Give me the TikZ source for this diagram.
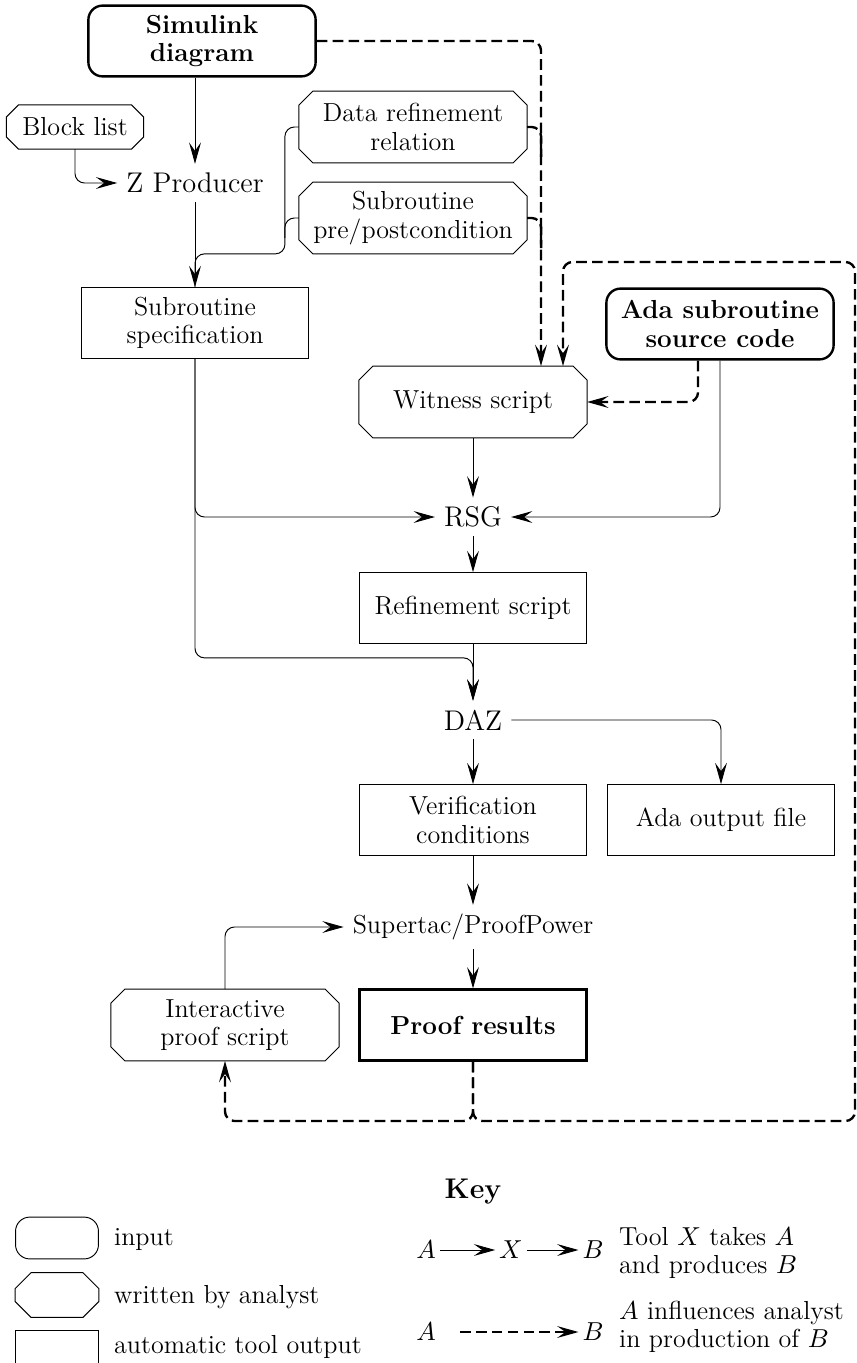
\documentclass[tikz,border=0pt]{standalone}
\usepackage{tikz}
\usetikzlibrary{positioning,arrows.meta,calc}
\AtBeginDocument{\fontsize{11}{12}\selectfont}
\tikzset{
  inbox/.style={draw,line width=1pt,rounded corners=6pt,align=center,
               minimum width=33.7mm,minimum height=10.5mm,inner sep=2pt,font=\bfseries},
  anbox/.style={rectangle,align=center,minimum width=33.7mm,
               minimum height=10.5mm,inner sep=2pt},
  autobox/.style={draw,rectangle,align=center,minimum width=33.7mm,
                 minimum height=10.5mm,inner sep=2pt},
  tool/.style={font=\large},
  keyshape/.style={minimum width=12.3mm,minimum height=6.2mm,inner sep=0pt},
  keym/.style={inner sep=1.5pt},
  arr/.style={-{Stealth[length=9pt,width=5pt,inset=3.5pt]},rounded corners=4pt},
  conn/.style={rounded corners=4pt},
  darr/.style={-{Stealth[length=9pt,width=5pt,inset=3.5pt]},line width=1pt,
              dash pattern=on 4.5pt off 2.2pt,rounded corners=4pt},
  dline/.style={line width=1pt,dash pattern=on 4.5pt off 2.2pt,rounded corners=4pt}
}

\begin{document}
\begin{tikzpicture}[x=0.1483mm,y=-0.1483mm]
  \useasboundingbox (0,0) rectangle (857,1363);
  % tools and documents
  \node[inbox] (sim) at (202,41) {Simulink\\diagram};
  \node[anbox,minimum width=20.2mm,minimum height=6.4mm] (blk) at (75,127) {Block list};
  \node[tool] (zp) at (195,183) {Z Producer};
  \node[anbox] (drr) at (413,127) {Data refinement\\relation};
  \node[anbox] (pp) at (413,218) {Subroutine\\pre/postcondition};
  \node[autobox] (spec) at (195,323) {Subroutine\\specification};
  \node[inbox] (ada) at (720,324) {Ada subroutine\\source code};
  \node[anbox] (wit) at (473,402) {Witness script};
  \node[tool] (rsg) at (473,517) {RSG};
  \node[autobox] (ref) at (473,608) {Refinement script};
  \node[tool] (daz) at (473,720) {DAZ};
  \node[autobox] (vc) at (473,820) {Verification\\conditions};
  \node[autobox] (aof) at (721,820) {Ada output file};
  \node (st) at (473,927) {Supertac/ProofPower};
  \node[anbox] (ips) at (225,1025) {Interactive\\proof script};
  \node[autobox,line width=1pt,font=\bfseries] (pr) at (473,1025) {Proof results};
  \coordinate (fb) at (473,1121);
  \coordinate (loopne) at (855,262);

  % key
  \node[font=\large\bfseries] (key) at (473,1192) {Key};
  \node[keyshape,draw,rounded corners=6pt] (kin) at (57,1238) {};
  \node[keyshape,minimum height=6.5mm] (kan) at (57,1295) {};
  \node[keyshape,draw] (kau) at (57,1351) {};
  \node[anchor=west] (kint) at (105,1240) {input};
  \node[anchor=west] (kant) at (105,1297) {written by analyst};
  \node[anchor=west] (kaut) at (105,1347) {automatic tool output};
  \node[keym] (ka) at (426,1250) {$A$};
  \node[keym] (kx) at (511,1250) {$X$};
  \node[keym] (kb) at (593,1250) {$B$};
  \node[keym] (ka2) at (426,1332) {$A$};
  \node[keym] (kb2) at (593,1332) {$B$};
  \node[anchor=west,align=left] (ktool) at (610,1253) {Tool $X$ takes $A$\\and produces $B$};
  \node[anchor=west,align=left] (kinf) at (610,1327) {$A$ influences analyst\\in production of $B$};

  % octagons for analyst documents
  \foreach \n/\c in {blk/12,drr/14,pp/14,wit/14,ips/14,kan/16}
    \draw ($(\n.north west)+(\c,0)$) -- ($(\n.north east)+(-\c,0)$)
      -- ($(\n.north east)+(0,\c)$) -- ($(\n.south east)+(0,-\c)$)
      -- ($(\n.south east)+(-\c,0)$) -- ($(\n.south west)+(\c,0)$)
      -- ($(\n.south west)+(0,-\c)$) -- ($(\n.north west)+(0,\c)$) -- cycle;

  % tool arrows
  \draw[arr] (zp |- sim.south) -- (zp);
  \draw[arr] (blk.south) |- (zp.west);
  \draw[arr] (zp) -- (spec);
  \draw[conn] (drr.west) -- ++(-14,0) |- (spec.north |- pp.south) -- (spec.north);
  \draw[conn] (pp.west) -- ++(-14,0) -- ++(0,20);
  \draw[arr] (spec.south) |- (rsg.west);
  \draw[arr] (ada.south) |- (rsg.east);
  \draw[arr] (wit) -- (rsg);
  \draw[arr] (rsg) -- (ref);
  \draw[arr] (ref) -- (daz);
  \draw[arr] (spec.south) |- ([shift={(0,14)}]ref.south) -- (daz.north);
  \draw[arr] (daz.east) -| (aof.north);
  \draw[arr] (daz) -- (vc);
  \draw[arr] (vc) -- (st);
  \draw[arr] (st) -- (pr);
  \draw[arr] (ips.north) |- (st.west);

  % analyst influence
  \draw[darr] (sim.east) -| ([shift={(68,0)}]wit.north);
  \draw[dline] (drr.east) -- ++(14,0) -- ++(0,30);
  \draw[dline] (pp.east) -- ++(14,0) -- ++(0,30);
  \draw[darr] ([shift={(-22,0)}]ada.south) |- (wit.east);
  \draw[darr] (pr.south) -- (fb) -| (ips.south);
  \draw[darr] (pr.south) -- (fb) -| (loopne) -| ([shift={(90,0)}]wit.north);

  % key arrows
  \draw[arr] (ka) -- (kx);
  \draw[arr] (kx) -- (kb);
  \draw[darr,line width=0.6pt,shorten <=3mm] (ka2) -- (kb2);
\end{tikzpicture}
\end{document}
